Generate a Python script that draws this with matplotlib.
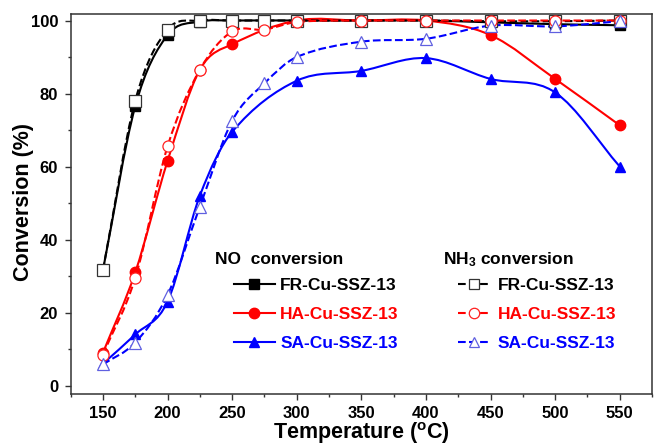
import numpy as np
import matplotlib
matplotlib.use("Agg")
import matplotlib.pyplot as plt
from matplotlib.path import Path
from matplotlib.patches import PathPatch
from matplotlib.lines import Line2D

plt.rcParams['font.family'] = ['Liberation Sans', 'DejaVu Sans']
plt.rcParams['font.weight'] = 'bold'
plt.rcParams['mathtext.fontset'] = 'custom'
plt.rcParams['mathtext.rm'] = 'Liberation Sans:bold'
plt.rcParams['mathtext.bf'] = 'Liberation Sans:bold'
plt.rcParams['mathtext.it'] = 'Liberation Sans:bold:italic'
plt.rcParams['mathtext.default'] = 'rm'

# ---------------- data ----------------
temp_no = [150, 175, 200, 225, 250, 300, 350, 400, 450, 500, 550]
fr_no = [31.6, 76.5, 96.0, 99.7, 100, 100, 100, 100, 99.5, 99.0, 98.7]
ha_no = [9.0, 31.0, 61.5, 86.5, 93.5, 100, 100, 100, 96.0, 84.0, 71.3]
sa_no = [6.0, 14.0, 23.0, 52.0, 69.5, 83.5, 86.2, 89.7, 84.0, 80.3, 60.0]

temp_nh3 = [150, 175, 200, 225, 250, 275, 300, 350, 400, 450, 500, 550]
fr_nh3 = [31.6, 78.0, 97.5, 100, 100, 100, 100, 100, 100, 99.8, 99.8, 100]
ha_nh3 = [8.5, 29.5, 65.5, 86.5, 97.0, 97.5, 99.6, 100, 100, 100, 100, 100]
sa_nh3 = [5.8, 11.8, 24.8, 49.0, 72.5, 82.8, 90.0, 94.2, 95.0, 98.6, 98.4, 99.8]

labels = ['FR-Cu-SSZ-13', 'HA-Cu-SSZ-13', 'SA-Cu-SSZ-13']
colors = ['#000000', '#ff0000', '#0000ff']
open_edge = ['#333333', '#ff2020', '#6060e0']
markers = ['s', 'o', '^']
xticks = [150, 200, 250, 300, 350, 400, 450, 500, 550]
yticks = [0, 20, 40, 60, 80, 100]


def smooth_path(x, y, tension=0.5):
    """Cubic Bezier (Catmull-Rom style) path through the points."""
    p = np.column_stack([np.asarray(x, float), np.asarray(y, float)])
    n = len(p)
    verts = [p[0]]
    codes = [Path.MOVETO]
    for i in range(n - 1):
        p0 = p[i - 1] if i > 0 else p[i]
        p1 = p[i]
        p2 = p[i + 1]
        p3 = p[i + 2] if i + 2 < n else p[i + 1]
        h = p2[0] - p1[0]
        t1 = (p2 - p0) / max(p2[0] - p0[0], 1e-9) * h
        t2 = (p3 - p1) / max(p3[0] - p1[0], 1e-9) * h
        c1 = p1 + t1 * tension * 2 / 3
        c2 = p2 - t2 * tension * 2 / 3
        verts += [c1, c2, p2]
        codes += [Path.CURVE4] * 3
    return Path(verts, codes)


fig = plt.figure(figsize=(6.54, 4.47), dpi=100)
ax = fig.add_axes([0.108, 0.1186, 0.889, 0.8502])

lw = 1.5
no_series = [fr_no, ha_no, sa_no]
nh3_series = [fr_nh3, ha_nh3, sa_nh3]

for i in range(3):
    ax.add_patch(PathPatch(smooth_path(temp_no, no_series[i]), fill=False,
                           edgecolor=colors[i], lw=lw, zorder=2))
    ax.plot(temp_no, no_series[i], ls='none', marker=markers[i], ms=7.5,
            color=colors[i], zorder=3)

for i in range(3):
    ax.add_patch(PathPatch(smooth_path(temp_nh3, nh3_series[i]), fill=False,
                           edgecolor=colors[i], lw=lw, ls='--', zorder=4))
    ax.plot(temp_nh3, nh3_series[i], ls='none', marker=markers[i], ms=8,
            mfc='white', mec=open_edge[i], mew=0.9, zorder=5)

ax.set_xlim(125, 575)
ax.set_ylim(-2.3, 101.8)
ax.set_xticks(xticks)
ax.set_xticks([125, 175, 225, 275, 325, 375, 425, 475, 525, 575], minor=True)
ax.set_yticks(yticks)
ax.set_yticks([10, 30, 50, 70, 90], minor=True)
ax.tick_params(which='major', direction='out', length=4, width=1, labelsize=12,
               color='#333333')
ax.tick_params(which='minor', direction='out', length=2.3, width=1, color='#333333')
ax.tick_params(axis='x', pad=4.5)
ax.tick_params(axis='y', pad=5)
for s in ax.spines.values():
    s.set_linewidth(1.1)
    s.set_color('#333333')

ax.set_xlabel('Temperature ($^{o}$C)', fontsize=15.5, fontweight='bold')
ax.xaxis.set_label_coords(0.5, -0.069)
ax.set_ylabel('Conversion (%)', fontsize=15.5, fontweight='bold')
ax.yaxis.set_label_coords(-0.063, 0.505)

# legends
fs = 12.5
h_no = [Line2D([], [], color=colors[i], lw=lw, marker=markers[i], ms=7.5)
        for i in range(3)]
h_nh3 = [Line2D([], [], color=colors[i], lw=lw, ls='--', marker=markers[i], ms=7.5,
                mfc='white', mec=open_edge[i], mew=0.9) for i in range(3)]

leg1 = ax.legend(h_no, labels, loc='upper left',
                 bbox_to_anchor=(234 / 654, 1 - 278 / 447),
                 bbox_transform=fig.transFigure, frameon=False,
                 prop={'size': fs, 'weight': 'bold'}, labelcolor=colors,
                 handlelength=2.36, handletextpad=0.3, borderpad=0,
                 borderaxespad=0, labelspacing=0.8)
ax.add_artist(leg1)
leg2 = ax.legend(h_nh3, labels, loc='upper left',
                 bbox_to_anchor=(458 / 654, 1 - 278 / 447),
                 bbox_transform=fig.transFigure, frameon=False,
                 prop={'size': fs, 'weight': 'bold'}, labelcolor=colors,
                 handlelength=1.85, handletextpad=0.45, borderpad=0,
                 borderaxespad=0, labelspacing=0.8)

fig.text(215 / 654, 1 - 264.5 / 447, 'NO  conversion', fontsize=fs,
         fontweight='bold', va='baseline', ha='left')
fig.text(442.7 / 654, 1 - 264.5 / 447, 'NH$_3$ conversion', fontsize=fs,
         fontweight='bold', va='baseline', ha='left')

fig.savefig('out.png', dpi=100)
